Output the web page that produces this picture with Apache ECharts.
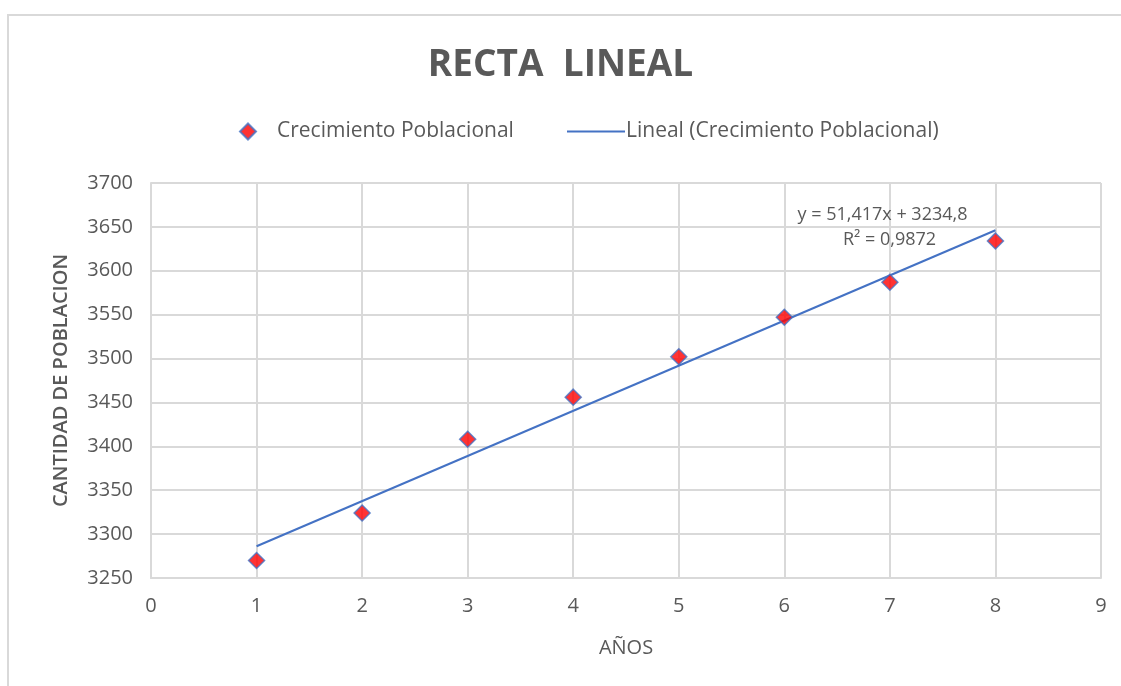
<!DOCTYPE html>
<html lang="es" style="height: 100%">
<head>
<meta charset="utf-8">
<title>Recta Lineal</title>
</head>
<body style="height: 100%; margin: 0; background: #fff">
<div id="frame" style="position:absolute; left:7px; top:14px; width:1200px; height:800px; border:2px solid #d9d9d9; box-sizing:border-box"></div>
<div id="container" style="position:absolute; left:0; top:0; width:1121px; height:686px"></div>

<script type="text/javascript" src="https://cdn.jsdelivr.net/npm/echarts/dist/echarts.min.js"></script>

<script type="text/javascript">

var years = [1, 2, 3, 4, 5, 6, 7, 8];
var population = [3270, 3324, 3408, 3456, 3502, 3547, 3587, 3634];

// trendline shown in the chart: y = 51,417x + 3234,8
var slope = 51.417;
var intercept = 3234.8;
var rSquared = '0,9872';

var dom = document.getElementById('container');
var myChart = echarts.init(dom);

var points = years.map(function (x, i) { return [x, population[i]]; });
var x0 = years[0], x1 = years[years.length - 1];
var trend = [[x0, slope * x0 + intercept], [x1, slope * x1 + intercept]];

var textColor = '#595959';
var gridColor = '#d9d9d9';
var font = 'Open Sans';

var option = {
    animation: false,
    title: {
        text: 'RECTA  LINEAL',
        left: 'center',
        top: 42,
        textStyle: {
            color: textColor,
            fontFamily: font,
            fontSize: 37,
            fontWeight: 'bold'
        }
    },
    legend: [
        {
            top: 116,
            left: 234,
            itemWidth: 16,
            itemHeight: 16,
            textStyle: { color: textColor, fontFamily: font, fontSize: 21, padding: [0, 0, 0, 16] },
            data: [{ name: 'Crecimiento Poblacional', icon: 'diamond' }]
        },
        {
            top: 116,
            left: 562,
            itemWidth: 58,
            itemHeight: 2,
            textStyle: { color: textColor, fontFamily: font, fontSize: 21, padding: [0, 0, 0, -4] },
            data: [{ name: 'Lineal (Crecimiento Poblacional)', icon: 'rect' }]
        }
    ],
    grid: {
        left: 151,
        right: 20,
        top: 183,
        bottom: 108
    },
    xAxis: {
        type: 'value',
        min: 0,
        max: 9,
        interval: 1,
        name: 'AÑOS',
        nameLocation: 'middle',
        nameGap: 60,
        nameTextStyle: { color: textColor, fontFamily: font, fontSize: 20 },
        axisLine: { lineStyle: { color: gridColor, width: 2 } },
        axisTick: { show: false },
        axisLabel: { color: textColor, fontFamily: font, fontSize: 20, margin: 18 },
        splitLine: { lineStyle: { color: gridColor, width: 2 } }
    },
    yAxis: {
        type: 'value',
        min: 3250,
        max: 3700,
        interval: 50,
        name: 'CANTIDAD DE POBLACION',
        nameLocation: 'middle',
        nameGap: 80,
        nameTextStyle: { color: textColor, fontFamily: font, fontSize: 20, fontWeight: 600 },
        axisLine: { show: true, lineStyle: { color: gridColor, width: 2 } },
        axisTick: { show: false },
        axisLabel: {
            color: textColor,
            fontFamily: font,
            fontSize: 20,
            margin: 18,
            formatter: function (v) { return String(v); }
        },
        splitLine: { lineStyle: { color: gridColor, width: 2 } }
    },
    series: [
        {
            name: 'Lineal (Crecimiento Poblacional)',
            type: 'line',
            data: trend,
            symbol: 'none',
            itemStyle: { color: '#4472c4' },
            lineStyle: { color: '#4472c4', width: 2 },
            z: 2,
            markPoint: {
                symbol: 'rect',
                symbolSize: 0,
                data: [{
                    coord: [6.93, 3649],
                    value: 0,
                    label: {
                        show: true,
                        formatter: 'y = 51,417x + 3234,8\n   R² = ' + rSquared,
                        color: textColor,
                        fontFamily: font,
                        fontSize: 18,
                        lineHeight: 25,
                        align: 'center'
                    }
                }]
            }
        },
        {
            name: 'Crecimiento Poblacional',
            type: 'scatter',
            data: points,
            symbol: 'diamond',
            symbolSize: 16,
            itemStyle: {
                color: '#ff0000',
                borderColor: '#4472c4',
                borderWidth: 1.5
            },
            z: 3
        }
    ]
};

if (option && typeof option === 'object') {
    myChart.setOption(option);
}

window.addEventListener('resize', myChart.resize);
</script>
</body>
</html>
